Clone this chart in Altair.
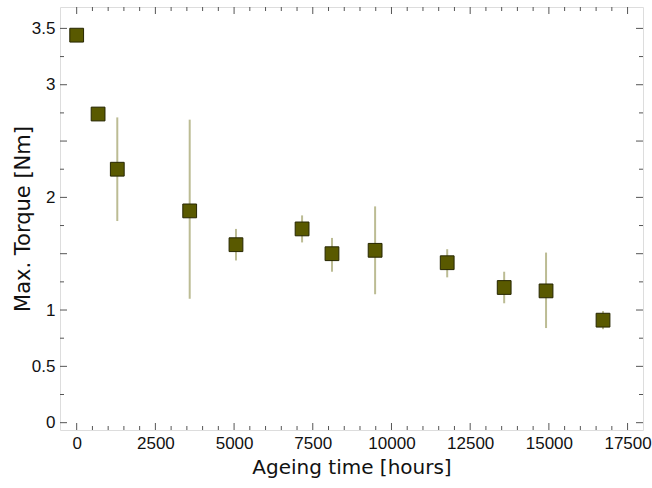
import altair as alt
import pandas as pd

# data
hours = [0, 680, 1290, 3590, 5060, 7160, 8110, 9480, 11770, 13580, 14910, 16720]
torque = [3.44, 2.74, 2.25, 1.88, 1.58, 1.72, 1.50, 1.53, 1.42, 1.20, 1.17, 0.91]
err_hi = [None, None, 2.71, 2.69, 1.72, 1.84, 1.64, 1.92, 1.54, 1.34, 1.51, 0.99]
err_lo = [None, None, 1.79, 1.10, 1.44, 1.60, 1.34, 1.14, 1.29, 1.06, 0.84, 0.83]

x_major = [0, 2500, 5000, 7500, 10000, 12500, 15000, 17500]
x_minor = [v for v in range(500, 17501, 500) if v % 2500 != 0]
y_labels = [0, 0.5, 1, 2, 3, 3.5]
y_major = [0, 0.5, 1, 1.5, 2, 2.5, 3, 3.5]
y_minor = [0.25, 0.75, 1.25, 1.75, 2.25, 2.75, 3.25]

W, H = 583, 423
TFONT = "DejaVu Sans"
LFONT = "Liberation Sans"

df = pd.DataFrame({"h": hours, "t": torque, "hi": err_hi, "lo": err_lo})
err_df = df.dropna()

xs = alt.Scale(domain=[-530, 17990], nice=False, zero=False)
ys = alt.Scale(domain=[-0.065, 3.69], nice=False, zero=False)

xaxis = alt.Axis(values=x_major, format="d", tickSize=0, domain=False, grid=False,
                 labelPadding=5, labelFontSize=17, labelFont=LFONT, labelColor="#111",
                 title="Ageing time [hours]", titleFontSize=20, titleFont=TFONT,
                 titleFontWeight="normal", titleColor="#111", titlePadding=6)
yaxis = alt.Axis(values=y_labels, format="~g", tickSize=0, domain=False, grid=False,
                 labelPadding=5, labelFontSize=17, labelFont=LFONT, labelColor="#111",
                 title="Max. Torque [Nm]", titleFontSize=21, titleFont=TFONT,
                 titleFontWeight="normal", titleColor="#111", titleX=-27)

bars = alt.Chart(err_df).mark_rule(color="#bcbc94", strokeWidth=2).encode(
    x=alt.X("h:Q", scale=xs, axis=xaxis),
    y=alt.Y("lo:Q", scale=ys, axis=yaxis),
    y2="hi:Q",
)

pts = alt.Chart(df).mark_point(shape="square", filled=True, size=190, fill="#595900",
                               stroke="#262600", strokeWidth=1, opacity=1).encode(
    x=alt.X("h:Q", scale=xs),
    y=alt.Y("t:Q", scale=ys),
)

tick_color = "#555"

def xticks(vals, length):
    d = pd.DataFrame({"v": vals})
    b = alt.Chart(d).mark_rule(color=tick_color, strokeWidth=1).encode(
        x=alt.X("v:Q", scale=xs), y=alt.value(H), y2=alt.value(H - length))
    t = alt.Chart(d).mark_rule(color=tick_color, strokeWidth=1).encode(
        x=alt.X("v:Q", scale=xs), y=alt.value(0), y2=alt.value(length))
    return [b, t]

def yticks(vals, length):
    d = pd.DataFrame({"v": vals})
    l = alt.Chart(d).mark_rule(color=tick_color, strokeWidth=1).encode(
        y=alt.Y("v:Q", scale=ys), x=alt.value(0), x2=alt.value(length))
    r = alt.Chart(d).mark_rule(color=tick_color, strokeWidth=1).encode(
        y=alt.Y("v:Q", scale=ys), x=alt.value(W), x2=alt.value(W - length))
    return [l, r]

layers = [bars] + xticks(x_major, 7) + xticks(x_minor, 4) + yticks(y_major, 7) + yticks(y_minor, 4) + [pts]

chart = alt.layer(*layers).properties(
    width=W, height=H,
    autosize=alt.AutoSizeParams(type="none"),
    padding={"left": 60, "top": 7, "right": 9, "bottom": 58},
).configure_view(stroke="#333", strokeWidth=1.2).configure(background="white")

chart.save("out.html", embed_options={"renderer": "svg", "actions": False})
